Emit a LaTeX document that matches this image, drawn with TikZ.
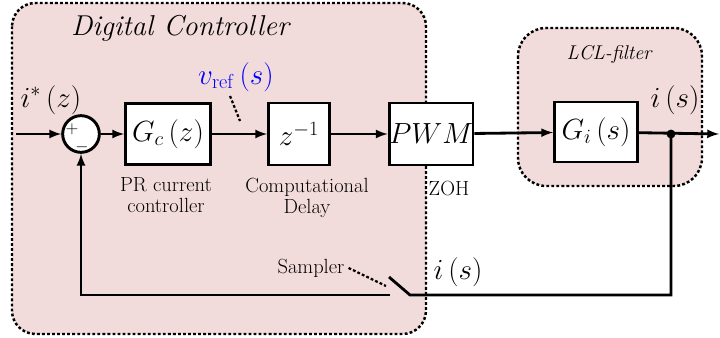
\documentclass[tikz,border=0pt]{standalone}
\usetikzlibrary{positioning}
\definecolor{pinkbg}{RGB}{242,220,219}
\tikzset{
  region/.style={draw, line width=2.1pt, dash pattern=on 2.4pt off 1.9pt, fill=pinkbg},
  blk/.style={draw, line width=2.5pt, fill=white, inner sep=0pt, font=\fontsize{23}{25}\selectfont},
  sig/.style={line width=2.4pt, ->, >=latex},
  wire/.style={line width=2.4pt},
  lbl/.style={font=\fontsize{17.5}{18.5}\selectfont, align=center},
  mlbl/.style={font=\fontsize{23}{25}\selectfont},
  sgn/.style={font=\fontsize{15}{16}\selectfont, inner sep=0pt},
  leader/.style={line width=1.9pt, dash pattern=on 2.4pt off 1.8pt},
}
\begin{document}
\begin{tikzpicture}[x=0.03cm, y=-0.03cm]
\useasboundingbox (0,0) rectangle (720,338);
% shaded regions
\draw[region, rounded corners=20pt] (12,3) rectangle (426,334);
\node[font=\fontsize{24.5}{26}\selectfont\itshape] (dctitle) at (180,28) {Digital Controller};
\draw[region, rounded corners=24pt] (518,28) rectangle (702,186);
\node[font=\fontsize{17}{18}\selectfont\itshape] (lcltitle) at (609,55) {LCL-filter};

% blocks
\node[draw, circle, line width=2.5pt, fill=white, minimum size=1.1cm, inner sep=0pt] (sum) at (81,134) {};
\node[sgn] (plus) at (72,129) {$+$};
\node[sgn] (minus) at (82,147) {$-$};
\node[blk, minimum width=2.55cm, minimum height=1.83cm] (gc) at (168,134) {$G_c\,(z)$};
\node[blk, minimum width=1.83cm, minimum height=1.86cm] (del) at (299,134) {$z^{-1}$};
\node[blk, minimum width=2.34cm, minimum height=1.86cm] (pwm) at (431,134) {$PWM$};
\node[blk, minimum width=2.49cm, minimum height=1.8cm] (gi) at (596,132) {$G_i\,(s)$};

\node[lbl] (gctext) at (166,195) {PR current\\controller};
\node[lbl] (deltext) at (307,198) {Computational\\Delay};
\node[lbl] (zoh) at (449,188) {ZOH};

% points on the wires
\coordinate (in) at (16,134);
\coordinate (out) at (719,134);
\coordinate (jn) at (671,134);
\coordinate (fbR) at (671,295);
\coordinate (swA) at (410,295);
\coordinate (swB) at (389,277);
\coordinate (swC) at (390,295);

% signal path
\draw[sig] (in) -- (sum);
\draw[sig] (sum) -- (gc);
\draw[sig] (gc) -- (del);
\draw[sig] (del) -- (pwm);
\draw[sig] (pwm) -- (gi);
\draw[sig] (gi) -- (out);
\fill (jn) circle (3.8pt);
\draw[wire, line join=miter] (jn) -- (fbR) -- (swA) -- (swB);
\draw[sig] (swC) -| (sum.south);

% labels
\node[mlbl] (istar) at (51,100) {$i^{*}\,(z)$};
\node[mlbl, text=blue] (vref) at (236,77) {$v_{\mathrm{ref}}\,(s)$};
\draw[leader] (230,96) coordinate (vA) -- (240,121);
\node[lbl] (sampler) at (311,268) {Sampler};
\draw[leader] (sampler.east) -- (386,286);
\node[mlbl] (ifb) at (458,272) {$i\,(s)$};
\node[mlbl] (iout) at (675,100) {$i\,(s)$};
\end{tikzpicture}
\end{document}
